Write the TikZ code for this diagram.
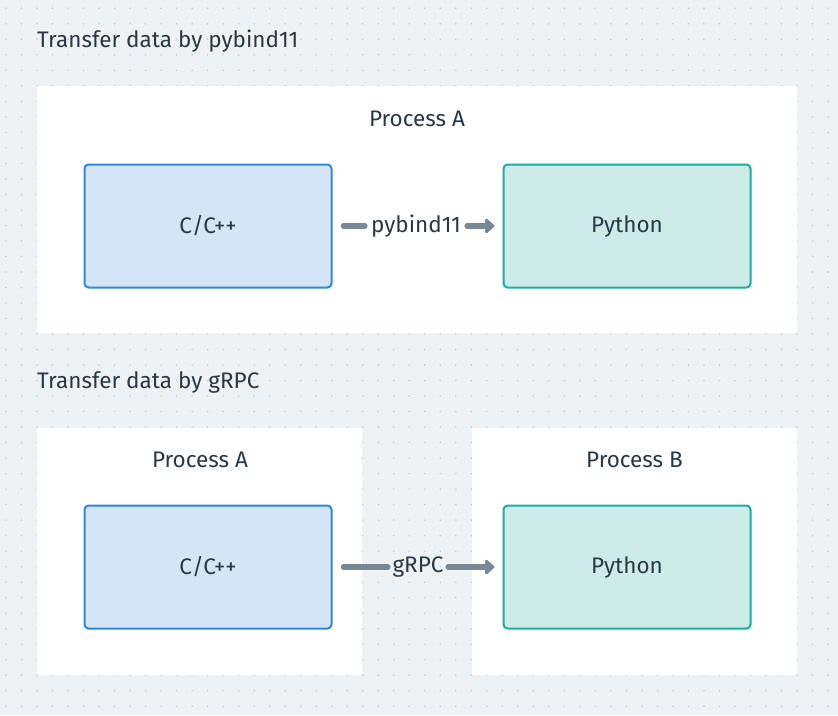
\documentclass[tikz,border=0pt]{standalone}
\usepackage{fontspec}
\setmainfont{Fira Sans}
\usetikzlibrary{arrows.meta}
\definecolor{bgc}{HTML}{EFF2F5}
\definecolor{dotc}{HTML}{C3CDD8}
\definecolor{txt}{HTML}{293845}
\definecolor{bluefill}{HTML}{D3E5F6}
\definecolor{bluestroke}{HTML}{2E88E0}
\definecolor{tealfill}{HTML}{CDECE9}
\definecolor{tealstroke}{HTML}{1AAE9F}
\definecolor{arrowc}{HTML}{788896}
\tikzset{
  panel/.style={fill=white, draw=none, rounded corners=1.5pt},
  blk/.style={minimum width=247pt, minimum height=123pt, rounded corners=4pt, line width=2pt, text=txt, font=\fontsize{22.5}{26}\selectfont},
  cblk/.style={blk, fill=bluefill, draw=bluestroke},
  pblk/.style={blk, fill=tealfill, draw=tealstroke},
  ttl/.style={text=txt, font=\fontsize{22.5}{26}\selectfont, anchor=base west, inner sep=0pt},
  ptl/.style={text=txt, font=\fontsize{22.5}{26}\selectfont, anchor=base, inner sep=0pt},
  lbl/.style={text=txt, font=\fontsize{22.5}{26}\selectfont, inner sep=0pt},
  conn/.style={draw=arrowc, line width=5.5pt, line cap=round},
  head/.style={-{Triangle[length=10pt,width=17pt,round]}}
}
\begin{document}
\begin{tikzpicture}[x=1pt,y=-1pt]
\fill[bgc] (0,0) rectangle (838,715);
\useasboundingbox (0,0) rectangle (838,715);
\foreach \i in {0,...,53}{
  \foreach \j in {0,...,45}{
    \fill[dotc] (6+15.51*\i, 8.3+15.51*\j) circle (0.85pt);
  }
}
% top section
\node[ttl] (t1) at (37,47) {Transfer data by pybind11};
\fill[panel] (37,86) rectangle (797,333);
\node[ptl] (pa1) at (417,126) {Process A};
\node[cblk] (c1) at (208,226) {C/C++};
\node[pblk] (p1) at (627,226) {Python};
\node[lbl] (l1) at (416,226) {pybind11};
\draw[conn] ([xshift=11pt]c1.east) -- ([xshift=-6pt]l1.west);
\draw[conn,head] ([xshift=6pt]l1.east) -- ([xshift=-8pt]p1.west);
% bottom section
\node[ttl] (t2) at (37,388) {Transfer data by gRPC};
\fill[panel] (37,428) rectangle (362,675);
\fill[panel] (472,428) rectangle (797,675);
\node[ptl] (pa2) at (200,467) {Process A};
\node[ptl] (pb2) at (634.5,467) {Process B};
\node[cblk] (c2) at (208,567) {C/C++};
\node[pblk] (p2) at (627,567) {Python};
\node[lbl] (l2) at (418,567) {gRPC};
\draw[conn] ([xshift=11pt]c2.east) -- ([xshift=-4.5pt]l2.west);
\draw[conn,head] ([xshift=4.5pt]l2.east) -- ([xshift=-8pt]p2.west);
\end{tikzpicture}
\end{document}
